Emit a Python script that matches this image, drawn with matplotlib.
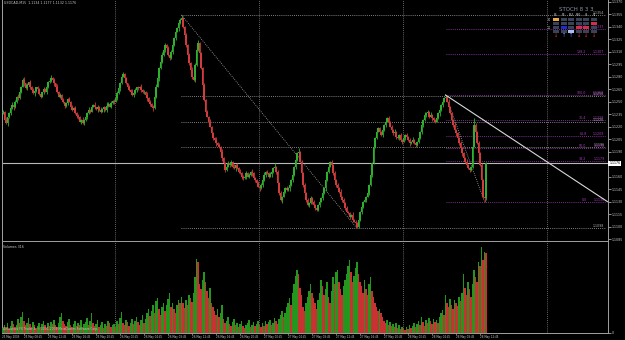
import numpy as np
import pandas as pd
import matplotlib
matplotlib.use('Agg')
import matplotlib.pyplot as plt
from matplotlib.patches import Rectangle

plt.rcParams['font.family'] = ['DejaVu Sans']
plt.rcParams['font.stretch'] = 'condensed'

# ---- data (prices in pips above 1.1000) ----
symbol = 'USDCAD,M15'
first_bar_time = '2009-05-25 05:15'
first_open_pips = 236
close_pips = [
    238, 228, 224, 231, 236, 242, 246, 243, 250, 256, 254, 262, 268,
    276, 272, 266, 270, 273, 268, 264, 260, 263, 267, 265, 259, 256, 261, 265, 262, 268, 273, 275, 278,
    276, 272, 268, 262, 256, 258, 252, 249, 245, 248, 253, 250, 244, 240, 242, 236, 233, 231, 226, 228,
    224, 228, 232, 236, 240, 238, 244, 246, 243, 241, 244, 240, 238, 241, 243, 240, 245, 247, 244, 248, 251, 250,
    254, 260, 266, 272, 280, 283, 278, 272, 268, 264, 262, 258, 260, 264, 267, 266, 268, 264, 261, 262, 258, 254, 250, 247, 244,
    242, 256, 268, 278, 290, 298, 306, 312, 318, 314, 306, 302, 310, 318, 326, 334, 338, 344, 348,
    350, 340, 330, 318, 306, 296, 288, 280, 276, 294, 312, 320, 308, 290, 270, 252,
    238, 232, 226, 220, 212, 206, 204, 200, 198, 196, 190, 182, 176, 168, 172, 176, 174, 178, 172, 170,
    174, 170, 166, 164, 160, 158, 160, 164, 160, 162, 166, 164, 158, 156, 152, 148,
    146, 150, 156, 162, 166, 164, 160, 163, 166, 170, 172, 166, 152, 140, 132, 136, 142, 146, 144, 146,
    150, 156, 162, 172, 180, 188,
    190, 178, 164, 150, 140, 132, 126, 128, 134, 130, 126, 122, 120, 126, 130, 134, 140, 146, 156, 166,
    172, 178, 174, 164, 156, 150, 146, 142, 136, 132, 128, 122, 118, 116, 112, 114, 108, 106, 104,
    100, 108, 118, 124, 130, 132, 136, 140, 150, 162, 176, 196, 206, 214, 218, 214, 210, 216, 222, 226,
    230, 226, 220, 216, 212, 214, 208, 206, 210, 204, 202,
    206, 210, 208, 204, 200, 202, 204, 200, 198, 202, 206, 214, 222, 228, 234, 236, 238, 232, 234, 230,
    228, 226, 230, 236, 240, 246, 250, 254,
    256, 250, 244, 236, 228, 222, 216, 212, 206, 200, 194, 188, 182, 178, 174, 170, 168, 172, 196, 222,
    214, 200, 188, 174, 156, 136, 134, 176,
]
wick_up = ("2131213121 3212412131 2312131213 2141213121 3121312131 "
           "2213121312 1312131214 2131213122 3121213121 2131213121 "
           "2131213121 3121212124 2131213122 4121312131 2131213121 "
           "3121312131 2131213121 3121312131 2412131213 1213121412 "
           "1312131213 1213121312 1312131213 1213121312 1312131213 "
           "1213121312 1312131213 1213121312 1312131213 1213121312 "
           "1312131213 1213821312 121")
wick_dn = ("1213121312 2121312131 1312121213 2121312121 1312131213 "
           "2131213121 1213121312 2121312131 1312131213 2131213121 "
           "3121312131 1213121312 2131213121 1312131213 2131213121 "
           "1312131213 2131213121 1312131213 2131214121 1312131213 "
           "2131213121 1312131213 2131213121 1312132213 2131213121 "
           "1312131213 2131213121 1312131213 2131213121 1312131213 "
           "2131213121 1312131213 242")
volumes = [
    20, 32, 24, 40, 16, 28, 48, 36, 24, 32, 56, 40, 64, 84, 48, 32, 40, 60, 36, 24, 44, 32, 20, 28, 40,
    24, 36, 48, 32, 20, 40, 28, 44, 36, 52, 32, 24, 40, 64, 80, 48, 36, 28, 44, 56, 32, 24, 36, 48, 28,
    40, 32, 52, 24, 36, 44, 60, 32, 48, 80, 40, 28, 36, 52, 24, 32, 44, 20, 36, 28, 48, 40, 24, 32, 36,
    24, 48, 36, 60, 84, 40, 32, 52, 44, 28, 40, 56, 36, 48, 64, 44, 32, 52, 72, 40, 56, 80, 96, 68, 88,
    112, 80, 128, 140, 96, 72, 104, 120, 88, 112, 136, 160, 104, 120, 96, 80, 112, 132, 120,
    144, 120, 100, 132, 112, 152, 140, 124, 160, 220, 292, 280, 192, 176, 208, 240,
    200, 168, 140, 180, 120, 104, 88, 72, 96, 64, 80, 112, 56, 40, 48, 64, 36, 28, 44, 56,
    32, 40, 24, 36, 48, 28, 20, 32, 40, 52, 24, 32, 44, 28, 36, 48,
    32, 24, 40, 28, 48, 36, 44, 52, 32, 40, 60, 48, 36, 56, 72, 88, 64, 80, 104, 120, 140, 112, 160, 192, 224, 248,
    232, 180, 152, 104, 88, 120, 144, 168, 192, 160, 140, 120, 96, 132, 160, 208, 184, 152, 176, 200,
    144, 120, 168, 220, 192, 240, 248, 200, 176, 152, 184, 208, 232, 264, 288, 240, 200, 224, 256,
    280, 232, 200, 184, 160, 208, 176, 152, 192, 220, 168, 144, 120, 104, 88, 96, 80, 64, 48, 40,
    52, 32, 44, 28, 36, 24, 40, 20, 32, 16, 24,
    20, 12, 24, 16, 32, 20, 28, 40, 24, 36, 48, 32, 64, 44, 28, 52, 40, 60, 48, 36, 56, 44, 52, 40, 64, 80, 92, 72,
    152, 120, 104, 136, 112, 96, 132, 120, 108, 144, 128, 160, 232, 180, 152, 200, 176, 144, 192, 248,
    220, 200, 280, 264, 340, 288, 320, 316,
]
day_starts = [75, 171, 267, 363]
price_ticks_pips = list(range(85, 371, 15))
fib_main_levels = [0.0, 38.2, 50.0, 61.8, 100.0]
fib_main_bars = (119, 236)
fib_small_levels = [0.0, 38.2, 50.0, 61.8, 76.4, 100.0, 138.2, 161.8]
fib_small_bars = (295, 321)
trend_end = (403, 1.1130)

stoch_tfs = ['M1', 'M5', 'M15', 'M30', 'H1', 'H4']
stoch_rows = ['oddddd', 'dddddr', 'dbdrrd', 'ddwddd']
stoch_arrows = [-1, 1, 1, -1, -1, -1]

# ---- styles ----
BG = 'black'
GREEN = '#2fb02f'
RED = '#d23c3c'
VGREEN = '#24961e'
VRED = '#c83232'
FG = '#c8c8c8'
GRID = '#8a8a8a'
PURPLE = '#a83cc0'
SMALL = 2.6
W, H = 625, 340

n = len(close_pips)
idx = np.arange(n)
c = 1.1 + np.array(close_pips) / 1e4
o = np.r_[1.1 + first_open_pips / 1e4, c[:-1]]
up = np.array([int(ch) for ch in wick_up.replace(' ', '')])
dn = np.array([int(ch) for ch in wick_dn.replace(' ', '')])
hi = np.maximum(o, c) + up / 1e4
lo = np.minimum(o, c) - dn / 1e4
vol = np.array(volumes)


def px_rect(l, t, r, b):
    return [l / W, 1 - b / H, (r - l) / W, (b - t) / H]


fig = plt.figure(figsize=(W / 100, H / 100), dpi=100, facecolor=BG)
ax = fig.add_axes(px_rect(2, 0, 608, 241), facecolor=BG)
axv = fig.add_axes(px_rect(2, 242, 608, 333), facecolor=BG, sharex=ax)

# candles
col = np.where(c >= o, GREEN, RED)
ax.vlines(idx, lo, hi, colors=col, lw=0.6, zorder=3)
body = np.maximum(np.abs(c - o), 0.00004)
ax.bar(idx, body, bottom=np.minimum(o, c), width=0.75, color=col, lw=0, zorder=3)

ax.set_xlim(-0.667, 403.33)
ax.set_ylim(1.10828, 1.1372)

# day separators
for d in day_starts:
    for a in (ax, axv):
        a.axvline(d - 0.5, color=GRID, lw=0.6, ls=(0, (1, 1.5)), zorder=1)

# big fibo (grey)
fh, fl = hi[fib_main_bars[0]], lo[fib_main_bars[1]]
for lv in fib_main_levels:
    y = fl + lv / 100 * (fh - fl)
    ax.hlines(y, fib_main_bars[0] - 0.5, 401, color='#a8a8a8', lw=0.6, ls=(0, (1, 1.5)), zorder=2)
    ax.text(401, y, f'{y:.4f}', ha='right', va='bottom', fontsize=SMALL, color='#b0b0b0')
ax.plot([fib_main_bars[0], fib_main_bars[1]], [fh, fl], color='#a8a8a8', lw=0.6,
        ls=(0, (1, 1.5)), zorder=2)

# small fibo (purple)
sh, sl = hi[fib_small_bars[0]], lo[fib_small_bars[1]]
for lv in fib_small_levels:
    y = sl + lv / 100 * (sh - sl)
    ax.hlines(y, fib_small_bars[0], 401, color=PURPLE, lw=0.6, ls=(0, (1, 1.5)), zorder=2)
    ax.text(389, y, f'{lv:.1f}', ha='right', va='bottom', fontsize=SMALL, color=PURPLE)
    ax.text(401, y, f'{y:.4f}', ha='right', va='bottom', fontsize=SMALL, color=PURPLE)
ax.plot([fib_small_bars[0], fib_small_bars[1]], [sh, sl], color='#a8a8a8', lw=0.6,
        ls=(0, (1, 1.5)), zorder=2)

# trend line and bid line
ax.plot([fib_small_bars[0], trend_end[0]], [sh, trend_end[1]], color='#d8d8d8', lw=0.8, zorder=4)
ax.axhline(c[-1], color='#b8b8b8', lw=0.8, zorder=2)

# axes styling
for a in (ax, axv):
    for s in a.spines.values():
        s.set_color('#a0a0a0')
        s.set_linewidth(0.7)
    a.spines['top'].set_visible(False)
    a.yaxis.tick_right()
    a.tick_params(axis='y', colors=FG, labelsize=SMALL, length=2, width=0.5, pad=0.8)
ax.tick_params(axis='x', bottom=False, labelbottom=False)

ticks = [1.1 + p / 1e4 for p in price_ticks_pips if abs(1.1 + p / 1e4 - c[-1]) > 0.0008]
ax.set_yticks(ticks)
ax.set_yticklabels([f'{t:.4f}' for t in ticks])
ax.text(1.002, c[-1], f'{c[-1]:.4f}', transform=ax.get_yaxis_transform(), fontsize=SMALL,
        color='black', va='center', ha='left',
        bbox=dict(facecolor='white', edgecolor='none', pad=0.6))
ax.text(0.003, 0.995, f'{symbol}  {o[-1]:.4f} {hi[-1]:.4f} {lo[-1]:.4f} {c[-1]:.4f}',
        transform=ax.transAxes, va='top', ha='left', fontsize=SMALL, color=FG)

# volumes
vcol = [VGREEN] + [VGREEN if vol[i] > vol[i - 1] else VRED for i in range(1, n)]
axv.bar(idx, vol, width=1.0, color=vcol, lw=0, zorder=3)
axv.set_ylim(0, 360)
axv.set_yticks([0])
axv.set_yticklabels(['0'])
axv.text(0.002, 0.97, f'Volumes {vol[-1]}', transform=axv.transAxes, va='top', ha='left',
         fontsize=SMALL, color=FG)
axv.text(0.002, 0.02, 'Deltastock FX Trader 4, \u00a9 2001-2009 MetaQuotes Software Corp.',
         transform=axv.transAxes, va='bottom', ha='left', fontsize=2.3, color=FG, zorder=5)

# time labels
times = pd.date_range(first_bar_time, periods=n, freq='15min')
lab_idx = [i for i in range(n) if times[i].minute == 45 and times[i].hour % 4 == 0]
axv.set_xticks(lab_idx)
axv.tick_params(axis='x', colors='#a0a0a0', length=1.5, width=0.5, labelbottom=False)
tr = axv.get_xaxis_transform()
axv.text(-0.667, -0.025, times[0].strftime('%d %b %Y'), transform=tr, ha='left', va='top',
         fontsize=2.2, color=FG)
for i in lab_idx:
    axv.text(i, -0.025, times[i].strftime('%d %b %H:%M'), transform=tr, ha='left', va='top',
             fontsize=2.2, color=FG)

# stochastic dashboard (pixel overlay)
ov = fig.add_axes([0, 0, 1, 1])
ov.set_xlim(0, W)
ov.set_ylim(H, 0)
ov.axis('off')
cell_col = {'o': '#e8a848', 'd': '#3a4258', 'b': '#1c2cd0', 'r': '#d0304a', 'w': '#a8c0f0'}
ov.text(576, 9.5, 'STOCH 8 3 3', ha='center', va='center', fontsize=4.4, color='#8a94a8')
x0, dx = 556, 7.6
for j, tf in enumerate(stoch_tfs):
    ov.text(x0 + j * dx, 15.5, tf, ha='center', va='center', fontsize=2.0, color=FG)
    for r, row in enumerate(stoch_rows):
        ov.add_patch(Rectangle((x0 + j * dx - 3, 18 + r * 4), 6, 3, color=cell_col[row[j]], lw=0))
    a = stoch_arrows[j]
    ov.text(x0 + j * dx, 35.5, '\u2193' if a < 0 else '\u2191', ha='center', va='center',
            fontsize=4, color='#e03030' if a < 0 else '#7090f0')
ov.text(549, 20, '80', ha='center', va='center', fontsize=2.0, color=FG)
ov.text(549, 28, '20', ha='center', va='center', fontsize=2.0, color=FG)

fig.savefig('out.png', dpi=100, facecolor=BG)
